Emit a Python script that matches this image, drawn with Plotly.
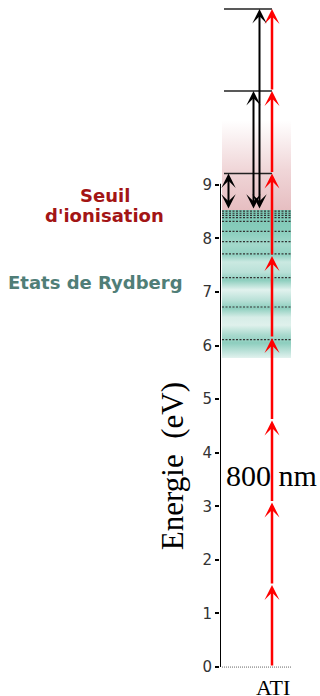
import plotly.graph_objects as go

# ---------------- data ----------------
tick_values = [0, 1, 2, 3, 4, 5, 6, 7, 8, 9]
photon_levels = [0, 1.53, 3.07, 4.6, 6.14, 7.67, 9.21, 10.75, 12.28]   # 800 nm photon ladder (eV)
ati_levels = [9.21, 10.75, 12.28]                                       # above-threshold levels
ionisation_threshold = 8.53
rydberg_levels = [8.51, 8.47, 8.43, 8.39, 8.32, 8.13, 7.94, 7.71, 7.27, 6.72, 6.11]
rydberg_band_bottom = 5.77
continuum_fade_top = 10.2
axis_top = 9.02

# shading of the Rydberg band (energy, relative intensity)
teal_shade_energy = [5.77, 5.9, 6.05, 6.2, 6.38, 6.53, 6.7, 6.85, 7.04, 7.22, 7.37, 7.56, 7.69, 7.88, 8.16, 8.53]
teal_shade_level = [0.1, 0.45, 0.85, 0.6, 0.12, 0.2, 0.85, 0.45, 0.1, 0.85, 0.45, 0.3, 0.8, 0.65, 0.9, 1.0]

# horizontal positions (x units = pixels right of the energy axis)
x_band = [2, 71]
x_red = 52
x_pair = 8.5
x_ati1 = 33.5
x_ati2 = 39.5
x_hline = [4, 52]

# ---------------- helpers ----------------
def mix(c1, c2, t):
    return "rgb(%d,%d,%d)" % tuple(round(a + (b - a) * t) for a, b in zip(c1, c2))

teal_light = (236, 247, 244)
teal_dark = (124, 199, 181)
span = teal_shade_energy[-1] - teal_shade_energy[0]
teal_scale = [[(e - teal_shade_energy[0]) / span, mix(teal_light, teal_dark, v)]
              for e, v in zip(teal_shade_energy, teal_shade_level)]

fig = go.Figure()

# Rydberg band
b, t = rydberg_band_bottom, ionisation_threshold
fig.add_trace(go.Scatter(
    x=[x_band[0], x_band[1], x_band[1], x_band[0], x_band[0]],
    y=[b, b, t, t, b], mode="none", fill="toself",
    fillgradient=dict(type="vertical", colorscale=teal_scale, start=b, stop=t),
    hoverinfo="skip", showlegend=False))

# continuum (pink fading upward)
b2, t2 = ionisation_threshold, continuum_fade_top
fig.add_trace(go.Scatter(
    x=[x_band[0], x_band[1], x_band[1], x_band[0], x_band[0]],
    y=[b2, b2, t2, t2, b2], mode="none", fill="toself",
    fillgradient=dict(type="vertical",
                      colorscale=[[0, "rgb(230,190,193)"], [0.45, "rgb(240,214,216)"], [1, "rgb(255,255,255)"]],
                      start=b2, stop=t2),
    hoverinfo="skip", showlegend=False))

shapes = []
# energy axis line
shapes.append(dict(type="line", xref="x", yref="y", x0=0, x1=0, y0=0, y1=axis_top,
                   line=dict(color="black", width=2)))
# ground dotted line
shapes.append(dict(type="line", xref="x", yref="y", x0=x_band[0], x1=x_band[1], y0=0, y1=0,
                   line=dict(color="#666", width=1, dash="1px,1px")))
# Rydberg levels
for e in rydberg_levels:
    shapes.append(dict(type="line", xref="x", yref="y", x0=x_band[0], x1=x_band[1], y0=e, y1=e,
                       line=dict(color="#333", width=1.2, dash="2px,1.5px")))
# ATI levels
for e in ati_levels:
    shapes.append(dict(type="line", xref="x", yref="y", x0=x_hline[0], x1=x_hline[1], y0=e, y1=e,
                       line=dict(color="#222", width=1.5)))

annotations = []
# red photon arrows
for lo, hi in zip(photon_levels[:-1], photon_levels[1:]):
    annotations.append(dict(x=x_red, y=hi, ax=x_red, ay=lo, xref="x", yref="y", axref="x", ayref="y",
                            text="", showarrow=True, arrowhead=3, arrowsize=1.0, arrowwidth=2.5,
                            arrowcolor="#ff0000", standoff=0, startstandoff=0))
# black double arrows (electron kinetic energies)
for xa, top in [(x_pair, ati_levels[0]), (x_ati1, ati_levels[1]), (x_ati2, ati_levels[2])]:
    annotations.append(dict(x=xa, y=top, ax=xa, ay=ionisation_threshold, xref="x", yref="y",
                            axref="x", ayref="y", text="", showarrow=True, arrowside="end+start",
                            arrowhead=3, startarrowhead=3, arrowsize=1.2, startarrowsize=1.2,
                            arrowwidth=2, arrowcolor="black", standoff=0, startstandoff=0))

# texts
annotations += [
    dict(xref="paper", yref="y", x=-1.15, y=8.81, text="<b>Seuil</b>", showarrow=False,
         xanchor="center", yanchor="middle",
         font=dict(family="DejaVu Sans", size=18, color="#a31515")),
    dict(xref="paper", yref="y", x=-1.155, y=8.42, text="<b>d'ionisation</b>", showarrow=False,
         xanchor="center", yanchor="middle",
         font=dict(family="DejaVu Sans", size=18, color="#a31515")),
    dict(xref="paper", yref="y", x=-1.245, y=7.17, text="<b>Etats de Rydberg</b>", showarrow=False,
         xanchor="center", yanchor="middle",
         font=dict(family="DejaVu Sans", size=18, color="#507e77")),
    dict(xref="paper", yref="y", x=-0.48, y=3.75, text="Energie\u00a0\u00a0(eV)", showarrow=False,
         xanchor="center", yanchor="middle", textangle=-90,
         font=dict(family="Liberation Serif", size=31, color="black")),
    dict(xref="paper", yref="y", x=0.51, y=3.57, text="800 nm", showarrow=False,
         xanchor="center", yanchor="middle",
         font=dict(family="Liberation Serif", size=30, color="black")),
    dict(xref="paper", yref="y", x=0.53, y=-0.39, text="ATI", showarrow=False,
         xanchor="center", yanchor="middle",
         font=dict(family="Liberation Serif", size=22, color="black")),
]

fig.update_layout(
    width=320, height=696,
    margin=dict(l=220, r=0, t=0, b=0),
    paper_bgcolor="white", plot_bgcolor="white",
    showlegend=False,
    shapes=shapes, annotations=annotations,
    xaxis=dict(range=[0, 100], visible=False, fixedrange=True),
    yaxis=dict(range=[-0.54, 12.45], tickvals=tick_values, ticks="outside", ticklen=4,
               tickwidth=1.5, tickcolor="black", showline=False, showgrid=False, zeroline=False,
               tickfont=dict(family="DejaVu Sans", size=15, color="#333"), fixedrange=True),
)

fig.write_html("out.html")
